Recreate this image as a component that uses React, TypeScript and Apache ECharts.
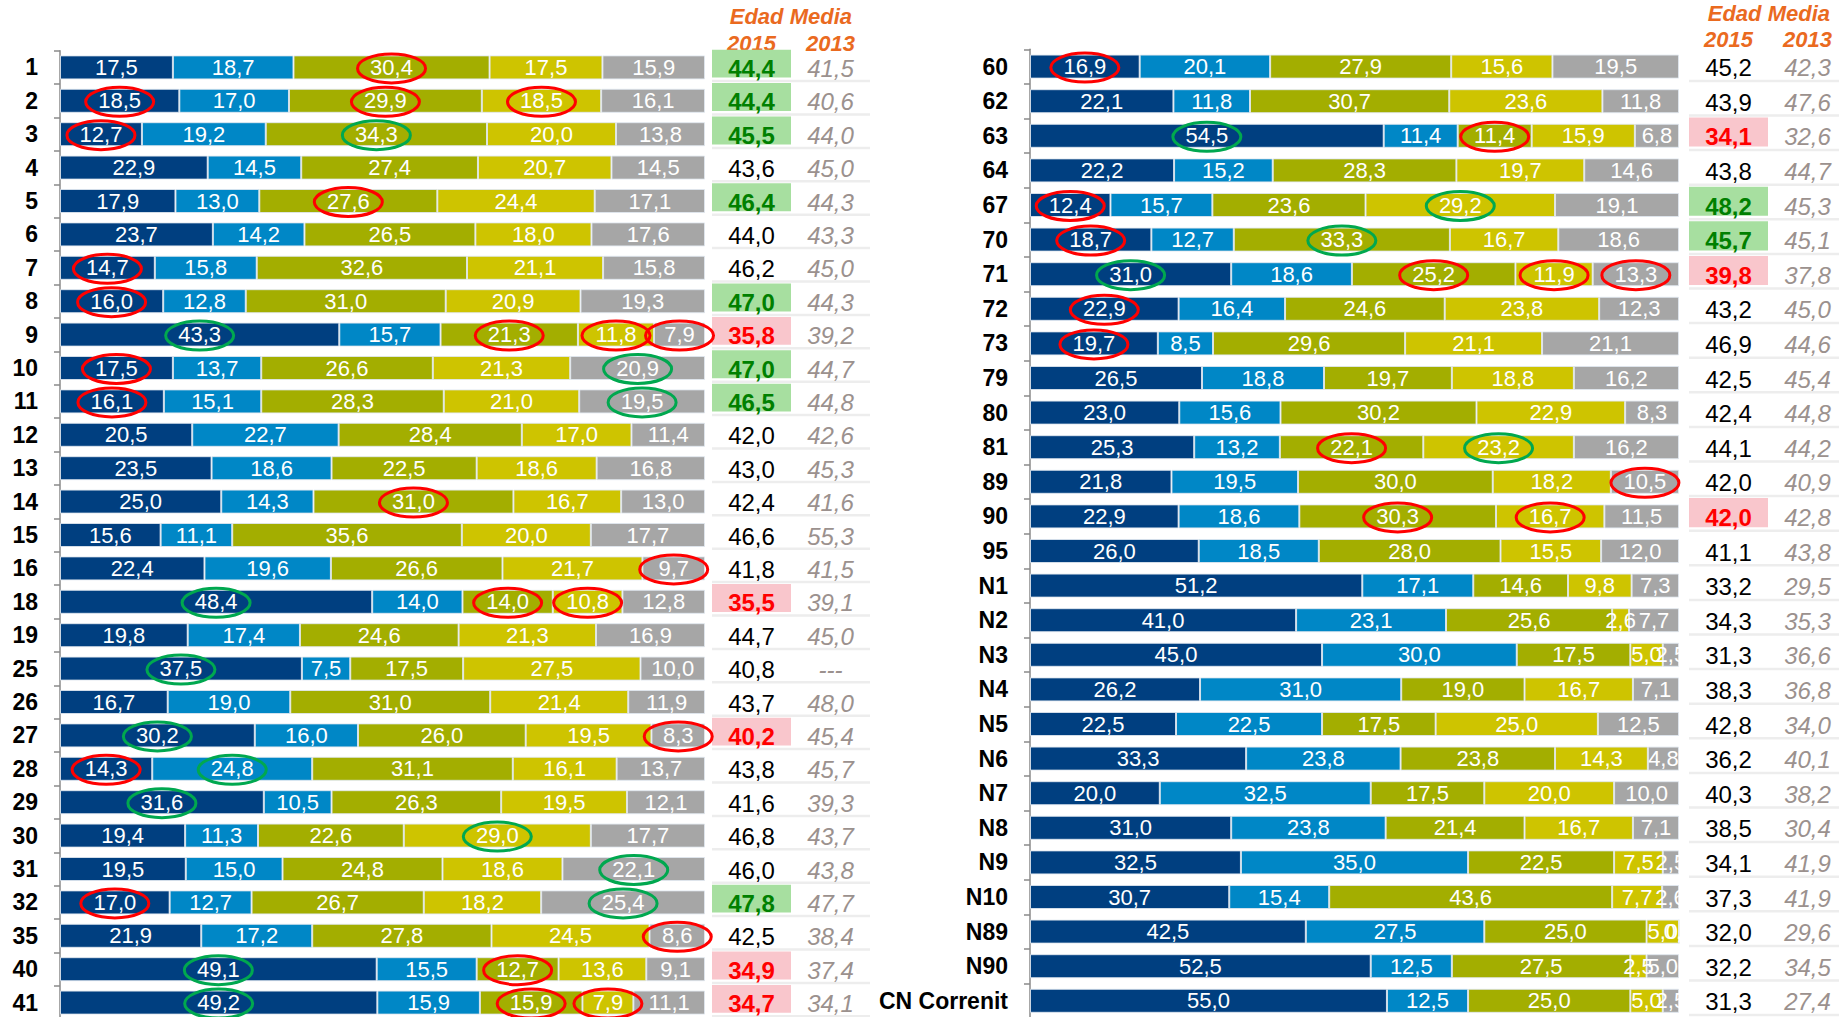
import React, { useEffect, useRef } from 'react';
import * as echarts from 'echarts';

// ---------- DATA ----------
const seriesNames = ['S1', 'S2', 'S3', 'S4', 'S5'];
const yearHeaders = ['2015', '2013'];
const tableTitle = 'Edad Media';

const leftCats = ['1', '2', '3', '4', '5', '6', '7', '8', '9', '10', '11', '12', '13', '14', '15', '16', '18', '19', '25', '26', '27', '28', '29', '30', '31', '32', '35', '40', '41'];
const leftA = [17.5, 18.5, 12.7, 22.9, 17.9, 23.7, 14.7, 16.0, 43.3, 17.5, 16.1, 20.5, 23.5, 25.0, 15.6, 22.4, 48.4, 19.8, 37.5, 16.7, 30.2, 14.3, 31.6, 19.4, 19.5, 17.0, 21.9, 49.1, 49.2];
const leftB = [18.7, 17.0, 19.2, 14.5, 13.0, 14.2, 15.8, 12.8, 15.7, 13.7, 15.1, 22.7, 18.6, 14.3, 11.1, 19.6, 14.0, 17.4, 7.5, 19.0, 16.0, 24.8, 10.5, 11.3, 15.0, 12.7, 17.2, 15.5, 15.9];
const leftC = [30.4, 29.9, 34.3, 27.4, 27.6, 26.5, 32.6, 31.0, 21.3, 26.6, 28.3, 28.4, 22.5, 31.0, 35.6, 26.6, 14.0, 24.6, 17.5, 31.0, 26.0, 31.1, 26.3, 22.6, 24.8, 26.7, 27.8, 12.7, 15.9];
const leftD = [17.5, 18.5, 20.0, 20.7, 24.4, 18.0, 21.1, 20.9, 11.8, 21.3, 21.0, 17.0, 18.6, 16.7, 20.0, 21.7, 10.8, 21.3, 27.5, 21.4, 19.5, 16.1, 19.5, 29.0, 18.6, 18.2, 24.5, 13.6, 7.9];
const leftE = [15.9, 16.1, 13.8, 14.5, 17.1, 17.6, 15.8, 19.3, 7.9, 20.9, 19.5, 11.4, 16.8, 13.0, 17.7, 9.7, 12.8, 16.9, 10.0, 11.9, 8.3, 13.7, 12.1, 17.7, 22.1, 25.4, 8.6, 9.1, 11.1];
const left2015 = [44.4, 44.4, 45.5, 43.6, 46.4, 44.0, 46.2, 47.0, 35.8, 47.0, 46.5, 42.0, 43.0, 42.4, 46.6, 41.8, 35.5, 44.7, 40.8, 43.7, 40.2, 43.8, 41.6, 46.8, 46.0, 47.8, 42.5, 34.9, 34.7];
const left2013 = [41.5, 40.6, 44.0, 45.0, 44.3, 43.3, 45.0, 44.3, 39.2, 44.7, 44.8, 42.6, 45.3, 41.6, 55.3, 41.5, 39.1, 45.0, null, 48.0, 45.4, 45.7, 39.3, 43.7, 43.8, 47.7, 38.4, 37.4, 34.1];
const left2015Flag = ['g', 'g', 'g', '', 'g', '', '', 'g', 'r', 'g', 'g', '', '', '', '', '', 'r', '', '', '', 'r', '', '', '', '', 'g', '', 'r', 'r'];
// [category, segment index, ring colour]
const leftMarks: [string, number, string][] = [
  ['1', 2, 'r'],
  ['2', 0, 'r'], ['2', 2, 'r'], ['2', 3, 'r'],
  ['3', 0, 'r'], ['3', 2, 'g'],
  ['5', 2, 'r'],
  ['7', 0, 'r'],
  ['8', 0, 'r'],
  ['9', 0, 'g'], ['9', 2, 'r'], ['9', 3, 'r'], ['9', 4, 'r'],
  ['10', 0, 'r'], ['10', 4, 'g'],
  ['11', 0, 'r'], ['11', 4, 'g'],
  ['14', 2, 'r'],
  ['16', 4, 'r'],
  ['18', 0, 'g'], ['18', 2, 'r'], ['18', 3, 'r'],
  ['25', 0, 'g'],
  ['27', 0, 'g'], ['27', 4, 'r'],
  ['28', 0, 'r'], ['28', 1, 'g'],
  ['29', 0, 'g'],
  ['30', 3, 'g'],
  ['31', 4, 'g'],
  ['32', 0, 'r'], ['32', 4, 'g'],
  ['35', 4, 'r'],
  ['40', 0, 'g'], ['40', 2, 'r'],
  ['41', 0, 'g'], ['41', 2, 'r'], ['41', 3, 'r'],
];

const rightCats = ['60', '62', '63', '64', '67', '70', '71', '72', '73', '79', '80', '81', '89', '90', '95', 'N1', 'N2', 'N3', 'N4', 'N5', 'N6', 'N7', 'N8', 'N9', 'N10', 'N89', 'N90', 'CN Correnit'];
const rightA = [16.9, 22.1, 54.5, 22.2, 12.4, 18.7, 31.0, 22.9, 19.7, 26.5, 23.0, 25.3, 21.8, 22.9, 26.0, 51.2, 41.0, 45.0, 26.2, 22.5, 33.3, 20.0, 31.0, 32.5, 30.7, 42.5, 52.5, 55.0];
const rightB = [20.1, 11.8, 11.4, 15.2, 15.7, 12.7, 18.6, 16.4, 8.5, 18.8, 15.6, 13.2, 19.5, 18.6, 18.5, 17.1, 23.1, 30.0, 31.0, 22.5, 23.8, 32.5, 23.8, 35.0, 15.4, 27.5, 12.5, 12.5];
const rightC = [27.9, 30.7, 11.4, 28.3, 23.6, 33.3, 25.2, 24.6, 29.6, 19.7, 30.2, 22.1, 30.0, 30.3, 28.0, 14.6, 25.6, 17.5, 19.0, 17.5, 23.8, 17.5, 21.4, 22.5, 43.6, 25.0, 27.5, 25.0];
const rightD = [15.6, 23.6, 15.9, 19.7, 29.2, 16.7, 11.9, 23.8, 21.1, 18.8, 22.9, 23.2, 18.2, 16.7, 15.5, 9.8, 2.6, 5.0, 16.7, 25.0, 14.3, 20.0, 16.7, 7.5, 7.7, 5.0, 2.5, 5.0];
const rightE = [19.5, 11.8, 6.8, 14.6, 19.1, 18.6, 13.3, 12.3, 21.1, 16.2, 8.3, 16.2, 10.5, 11.5, 12.0, 7.3, 7.7, 2.5, 7.1, 12.5, 4.8, 10.0, 7.1, 2.5, 2.6, 0.0, 5.0, 2.5];
const right2015 = [45.2, 43.9, 34.1, 43.8, 48.2, 45.7, 39.8, 43.2, 46.9, 42.5, 42.4, 44.1, 42.0, 42.0, 41.1, 33.2, 34.3, 31.3, 38.3, 42.8, 36.2, 40.3, 38.5, 34.1, 37.3, 32.0, 32.2, 31.3];
const right2013 = [42.3, 47.6, 32.6, 44.7, 45.3, 45.1, 37.8, 45.0, 44.6, 45.4, 44.8, 44.2, 40.9, 42.8, 43.8, 29.5, 35.3, 36.6, 36.8, 34.0, 40.1, 38.2, 30.4, 41.9, 41.9, 29.6, 34.5, 27.4];
const right2015Flag = ['', '', 'r', '', 'g', 'g', 'r', '', '', '', '', '', '', 'r', '', '', '', '', '', '', '', '', '', '', '', '', '', ''];
const rightMarks: [string, number, string][] = [
  ['60', 0, 'r'],
  ['63', 0, 'g'], ['63', 2, 'r'],
  ['67', 0, 'r'], ['67', 3, 'g'],
  ['70', 0, 'r'], ['70', 2, 'g'],
  ['71', 0, 'g'], ['71', 2, 'r'], ['71', 3, 'r'], ['71', 4, 'r'],
  ['72', 0, 'r'],
  ['73', 0, 'r'],
  ['81', 2, 'r'], ['81', 3, 'g'],
  ['89', 4, 'r'],
  ['90', 2, 'r'], ['90', 3, 'r'],
];

// ---------- STYLE ----------
const FONT = '"Liberation Sans", Arial, Helvetica, sans-serif';
const SEG_COLORS = ['#003F80', '#0087C6', '#A3AE00', '#CEC400', '#A6A6A6'];
const RING = { r: '#FF0000', g: '#00A84F' } as Record<string, string>;
const ORANGE = '#EA6A1F';
const fmt = (v: number) => v.toFixed(1).replace('.', ',');

function buildPanel(
  cats: string[], segs: number[][], y15: number[], y13: (number | null)[], flags: string[],
  marks: [string, number, string][], gBar: number, gTab: number
) {
  const series: any[] = [];
  const stackId = 'stack' + gBar;
  segs.forEach((arr, si) => {
    series.push({
      type: 'bar', name: seriesNames[si], stack: stackId,
      xAxisIndex: gBar, yAxisIndex: gBar, barWidth: 24,
      data: arr,
      itemStyle: { color: SEG_COLORS[si], borderColor: 'rgba(225,232,240,0.85)', borderWidth: 1 },
      label: {
        show: true, position: 'inside', color: '#fff', fontSize: 22, fontFamily: FONT,
        formatter: (p: any) => fmt(p.value),
      },
      silent: true,
    });
  });
  // rings around highlighted labels
  const ringData = marks.map(([cat, si]) => {
    const row = cats.indexOf(cat);
    let start = 0;
    for (let k = 0; k < si; k++) start += segs[k][row];
    return [start, start + segs[si][row], row];
  });
  series.push({
    type: 'custom', xAxisIndex: gBar, yAxisIndex: gBar, silent: true, z: 5,
    encode: { x: [0, 1], y: 2 },
    data: ringData,
    renderItem: (params: any, api: any) => {
      const p1 = api.coord([api.value(0), api.value(2)]);
      const p2 = api.coord([api.value(1), api.value(2)]);
      const color = RING[marks[params.dataIndex][2]];
      return {
        type: 'ellipse',
        shape: { cx: (p1[0] + p2[0]) / 2, cy: p1[1] + 1, rx: 34, ry: 14.5 },
        style: { fill: 'none', stroke: color, lineWidth: 3 },
      };
    },
  });
  // table of ages
  const cells: any[] = [];
  const cellData: number[][] = [];
  cats.forEach((_, i) => {
    const f = flags[i];
    cells.push({
      text: fmt(y15[i]),
      bg: f === 'g' ? '#A7DFA0' : f === 'r' ? '#F9C6CC' : null,
      font: (f ? 'bold ' : '') + '24px ' + FONT,
      color: f === 'g' ? '#008000' : f === 'r' ? '#FF0000' : '#000000',
    });
    cellData.push([0, i]);
    const v = y13[i];
    cells.push({
      text: v == null ? '---' : fmt(v),
      bg: null,
      font: 'italic 24px ' + FONT,
      color: '#9B918E',
    });
    cellData.push([1, i]);
  });
  series.push({
    type: 'custom', xAxisIndex: gTab, yAxisIndex: gTab, silent: true,
    encode: { x: 0, y: 1 },
    data: cellData,
    renderItem: (params: any, api: any) => {
      const c = api.coord([api.value(0), api.value(1)]);
      const sz = api.size([1, 1]);
      const w = sz[0], h = sz[1];
      const cell = cells[params.dataIndex];
      const top = c[1] - h / 2, bottom = c[1] + h / 2;
      const children: any[] = [];
      if (cell.bg) {
        children.push({ type: 'rect', shape: { x: c[0] - w / 2, y: top - 1, width: w, height: h - 5.5 }, style: { fill: cell.bg } });
      }
      children.push({
        type: 'line', shape: { x1: c[0] - w / 2, y1: bottom - 3, x2: c[0] + w / 2, y2: bottom - 3 },
        style: { stroke: '#EDEDED', lineWidth: 2.5 },
      });
      children.push({
        type: 'text', x: c[0], y: c[1] + 1,
        style: {
          text: cell.text, fill: cell.color, font: cell.font,
          align: 'center', verticalAlign: 'middle', textAlign: 'center', textVerticalAlign: 'middle',
        },
      });
      return { type: 'group', children };
    },
  });
  return series;
}

const catAxis = (cats: string[], grid: number) => ({
  type: 'category', gridIndex: grid, data: cats, inverse: true,
  axisLine: { show: true, lineStyle: { color: '#8A8A8A', width: 1.5 } },
  axisTick: { show: true, length: 6, lineStyle: { color: '#8A8A8A', width: 1.5 } },
  axisLabel: { show: true, color: '#000', fontWeight: 'bold', fontSize: 23, fontFamily: FONT, margin: 22 },
  splitLine: { show: false },
});
const hiddenCatAxis = (cats: string[], grid: number) => ({
  type: 'category', gridIndex: grid, data: cats, inverse: true, show: false,
});
const valAxis = (grid: number) => ({
  type: 'value', gridIndex: grid, min: 0, max: 100, show: false,
});
const yearAxis = (grid: number, margin: number) => ({
  type: 'category', gridIndex: grid, data: yearHeaders, position: 'top',
  axisLine: { show: false }, axisTick: { show: false }, splitLine: { show: false },
  axisLabel: {
    show: true, color: ORANGE, fontWeight: 'bold', fontStyle: 'italic', fontSize: 22, fontFamily: FONT, margin,
  },
});

const gridBase = { containLabel: false, outerBoundsMode: 'none' };

const option: any = {
  animation: false,
  backgroundColor: '#ffffff',
  textStyle: { fontFamily: FONT },
  title: [
    { text: tableTitle, right: 987, top: 5, padding: 0, textStyle: { color: ORANGE, fontSize: 22, fontWeight: 'bold', fontStyle: 'italic', fontFamily: FONT } },
    { text: tableTitle, right: 9, top: 2, padding: 0, textStyle: { color: ORANGE, fontSize: 22, fontWeight: 'bold', fontStyle: 'italic', fontFamily: FONT } },
  ],
  grid: [
    { ...gridBase, left: 60, top: 50.7, width: 645, height: 968.6 },
    { ...gridBase, left: 712, top: 50.7, width: 158, height: 968.6 },
    { ...gridBase, left: 1030, top: 49.3, width: 649, height: 968.8 },
    { ...gridBase, left: 1689, top: 49.3, width: 158, height: 968.8 },
  ],
  xAxis: [valAxis(0), yearAxis(1, -4), valAxis(2), yearAxis(3, -1)],
  yAxis: [catAxis(leftCats, 0), hiddenCatAxis(leftCats, 1), catAxis(rightCats, 2), hiddenCatAxis(rightCats, 3)],
  series: [
    ...buildPanel(leftCats, [leftA, leftB, leftC, leftD, leftE], left2015, left2013, left2015Flag, leftMarks, 0, 1),
    ...buildPanel(rightCats, [rightA, rightB, rightC, rightD, rightE], right2015, right2013, right2015Flag, rightMarks, 2, 3),
  ],
};

export default function App() {
  const ref = useRef<HTMLDivElement>(null);
  useEffect(() => {
    document.body.style.margin = '0';
    const chart = echarts.init(ref.current as HTMLDivElement, null, { renderer: 'svg' });
    chart.setOption(option);
    return () => chart.dispose();
  }, []);
  return <div ref={ref} style={{ width: 1839, height: 1017, position: 'absolute', left: 0, top: 0 }} />;
}
